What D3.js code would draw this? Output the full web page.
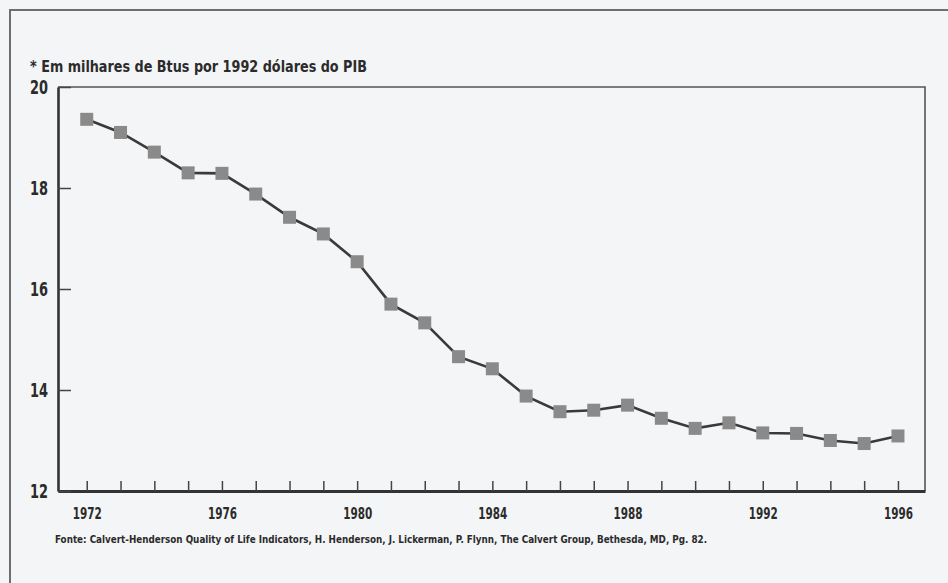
<!DOCTYPE html>
<html>
<head>
<meta charset="utf-8">
<script src="https://cdn.jsdelivr.net/npm/d3@7"></script>
<style>
  body { margin: 0; background: #f4f5f7; }
  svg { display: block; }
  .cond { font-family: "Liberation Sans Narrow", "DejaVu Sans Condensed", "Roboto", sans-serif; font-weight: bold; fill: #2b2b2b; }
</style>
</head>
<body>
<div id="chart"></div>
<script>
// energy intensity, thousands of Btus per 1992 dollar of GDP
var years = [1972, 1973, 1974, 1975, 1976, 1977, 1978, 1979, 1980, 1981, 1982, 1983,
             1984, 1985, 1986, 1987, 1988, 1989, 1990, 1991, 1992, 1993, 1994, 1995, 1996];
var values = [19.36, 19.10, 18.71, 18.30, 18.29, 17.88, 17.42, 17.09, 16.54, 15.70, 15.33, 14.66,
              14.42, 13.88, 13.57, 13.60, 13.70, 13.44, 13.24, 13.35, 13.15, 13.14, 13.00, 12.94, 13.09];
var yTicks = [12, 14, 16, 18, 20];
var xLabelYears = [1972, 1976, 1980, 1984, 1988, 1992, 1996];

var titleText = "* Em milhares de Btus por 1992 dólares do PIB";
var sourceText = "Fonte: Calvert-Henderson Quality of Life Indicators, H. Henderson, J. Lickerman, P. Flynn, The Calvert Group, Bethesda, MD, Pg. 82.";

var W = 948, H = 583;
var plotL = 58, plotR = 925, plotT = 87, plotB = 491;

var svg = d3.select("#chart").append("svg")
    .attr("width", W)
    .attr("height", H);

// outer frame of the clipping
svg.append("path")
    .attr("d", "M10," + H + "V10H" + W)
    .attr("fill", "none")
    .attr("stroke", "#6f6f6f")
    .attr("stroke-width", 2);

var x = d3.scaleLinear()
    .domain([1971.15, 1996.8])
    .range([plotL, plotR]);

var y = d3.scaleLinear()
    .domain([12, 20])
    .range([plotB, plotT]);

// box top and right
svg.append("path")
    .attr("d", "M" + plotL + "," + plotT + "H" + plotR + "V" + plotB)
    .attr("fill", "none")
    .attr("stroke", "#555")
    .attr("stroke-width", 1.6);

var xAxis = svg.append("g")
    .attr("transform", "translate(0," + plotB + ")")
    .call(d3.axisBottom(x)
        .tickValues(years)
        .tickSizeInner(-10)
        .tickSizeOuter(0)
        .tickPadding(17)
        .tickFormat(function(d) { return xLabelYears.indexOf(d) >= 0 ? d : ""; }));

xAxis.select(".domain").attr("stroke", "#333").attr("stroke-width", 3);
xAxis.selectAll(".tick line").attr("stroke", "#444").attr("stroke-width", 1.5);
xAxis.selectAll(".tick text")
    .attr("class", "cond")
    .style("font-size", "15px")
    .filter(function(d) { return xLabelYears.indexOf(d) >= 0; })
    .attr("textLength", 29)
    .attr("lengthAdjust", "spacingAndGlyphs");

var yAxis = svg.append("g")
    .attr("transform", "translate(" + plotL + ",0)")
    .call(d3.axisLeft(y)
        .tickValues(yTicks)
        .tickSizeInner(-13)
        .tickSizeOuter(0)
        .tickPadding(10)
        .tickFormat(d3.format("d")));

yAxis.select(".domain").attr("stroke", "#333").attr("stroke-width", 2.6);
yAxis.selectAll(".tick line").attr("stroke", "#444").attr("stroke-width", 1.5);
yAxis.selectAll(".tick text")
    .attr("class", "cond")
    .style("font-size", "20px")
    .attr("textLength", 18)
    .attr("lengthAdjust", "spacingAndGlyphs");

var series = years.map(function(yr, i) { return { year: yr, value: values[i] }; });

var line = d3.line()
    .x(function(d) { return x(d.year); })
    .y(function(d) { return y(d.value); });

svg.append("path")
    .datum(series)
    .attr("d", line)
    .attr("fill", "none")
    .attr("stroke", "#3a3a3a")
    .attr("stroke-width", 2.6);

var sz = 13;
svg.selectAll(".marker")
    .data(series)
    .enter()
    .append("rect")
    .attr("class", "marker")
    .attr("x", function(d) { return x(d.year) - sz / 2; })
    .attr("y", function(d) { return y(d.value) - sz / 2; })
    .attr("width", sz)
    .attr("height", sz)
    .attr("fill", "#8a8a8a");

svg.append("text")
    .attr("class", "cond")
    .attr("x", 30)
    .attr("y", 72)
    .attr("textLength", 337)
    .attr("lengthAdjust", "spacingAndGlyphs")
    .style("font-size", "15px")
    .text(titleText);

svg.append("text")
    .attr("class", "cond")
    .attr("x", 55)
    .attr("y", 543)
    .attr("textLength", 652)
    .attr("lengthAdjust", "spacingAndGlyphs")
    .style("font-size", "10.5px")
    .text(sourceText);
</script>
</body>
</html>
